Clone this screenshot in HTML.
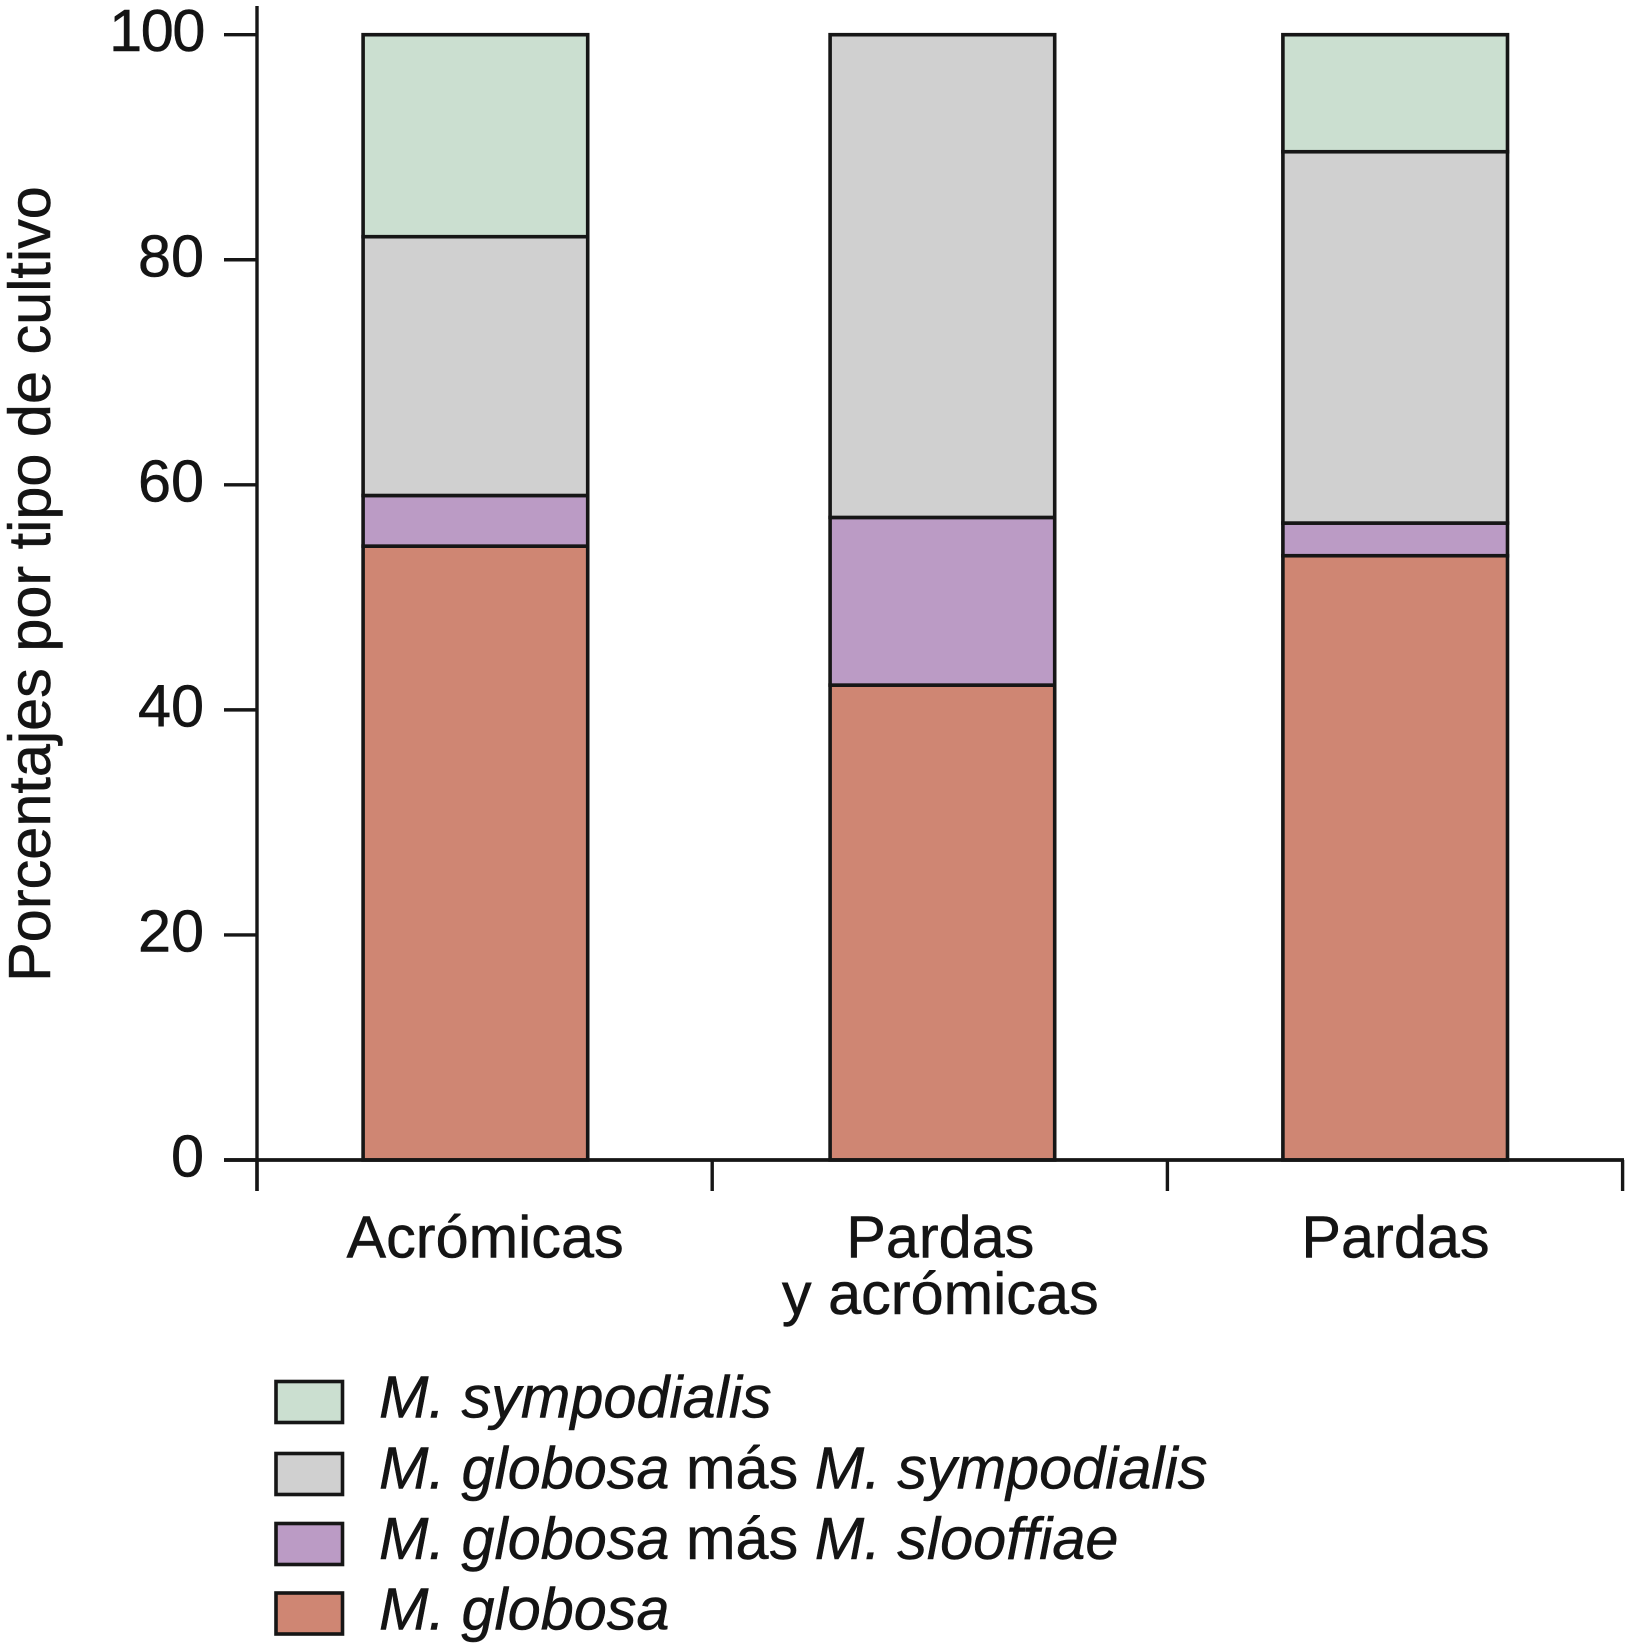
<!DOCTYPE html>
<html lang="es">
<head>
<meta charset="utf-8">
<title>Porcentajes por tipo de cultivo</title>
<style>
html,body{margin:0;padding:0;background:#fff;width:1625px;height:1649px;overflow:hidden}
svg{display:block}
text{font-family:"Liberation Sans",sans-serif;fill:#141414;stroke:#141414;stroke-width:.5px}
</style>
</head>
<body>
<svg id="chart" xmlns="http://www.w3.org/2000/svg" width="1625" height="1649" viewBox="0 0 1625 1649"></svg>
<script>
const categories = [["Acrómicas"], ["Pardas", "y acrómicas"], ["Pardas"]];
const yTicks = [0, 20, 40, 60, 80, 100];
const seriesGlobosa = [54.55, 42.2, 53.7];
const seriesSlooffiae = [4.5, 14.9, 2.9];
const seriesGlobosaSympodialis = [23, 42.9, 33];
const seriesSympodialis = [17.95, 0, 10.4];
const yTitle = "Porcentajes por tipo de cultivo";

const INK = "#161616";
const svg = document.getElementById("chart");
const NS = "http://www.w3.org/2000/svg";

const stacks = [
  { key: "globosa", values: seriesGlobosa, color: "#cf8673" },
  { key: "globosa-slooffiae", values: seriesSlooffiae, color: "#bb9bc5" },
  { key: "globosa-sympodialis", values: seriesGlobosaSympodialis, color: "#d0d0d0" },
  { key: "sympodialis", values: seriesSympodialis, color: "#cbdfd0" }
];

function yScale(v) { return 1160 - v * 11.253; }
function bandStart(i) { return 257 + i * 455.2; }
function bandCenter(i) { return bandStart(i) + 227.6; }
function barCenter(i) {
  const nudge = i === 0 ? -9.2 : i === 1 ? 2.6 : 0.2;
  return bandCenter(i) + nudge;
}
const BAR_WIDTH = 224.6;

function make(tag, attrs, parent) {
  const el = document.createElementNS(NS, tag);
  for (const k in attrs) el.setAttribute(k, attrs[k]);
  (parent || svg).appendChild(el);
  return el;
}

// stacked bars
categories.forEach(function (cat, i) {
  let acc = 0;
  stacks.forEach(function (s) {
    const v = s.values[i];
    if (v <= 0) return;
    const top = yScale(acc + v);
    const bottom = yScale(acc);
    const r = make("rect", {
      x: barCenter(i) - BAR_WIDTH / 2, y: top, width: BAR_WIDTH, height: bottom - top,
      fill: s.color, stroke: INK, "stroke-width": 3.6
    });
    
    
    acc += v;
  });
});

// y axis
const yAxis = make("line", { x1: 257, x2: 257, y1: 6, y2: 1191, stroke: INK, "stroke-width": 3.4 });



yTicks.forEach(function (t) {
  const y = yScale(t);
  const tick = make("line", { x1: 224, x2: 257, y1: y, y2: y, stroke: INK, "stroke-width": 3.4 });
  
  
  const label = make("text", { x: 204, y: y + 16.5, "text-anchor": "end", "font-size": 59.4 });
  if (String(t).length > 2) label.setAttribute("letter-spacing", "-1.4");
  label.textContent = t;
  
  
});

// x axis
const xAxis = make("line", { x1: 224, x2: 1624, y1: 1160, y2: 1160, stroke: INK, "stroke-width": 3.8 });



for (let i = 0; i <= categories.length; i++) {
  const x = bandStart(i);
  const tick = make("line", { x1: x, x2: x, y1: 1160, y2: 1191, stroke: INK, "stroke-width": 3.4 });
  
  
}

categories.forEach(function (lines, i) {
  lines.forEach(function (line, j) {
    const label = make("text", {
      x: bandCenter(i) + 0.5, y: 1257.5 + j * 56.5, "text-anchor": "middle", "font-size": 59.4
    });
    label.textContent = line;
    
    
  });
});

// y title
const title = make("text", {
  transform: "translate(50 584) rotate(-90)", x: 0, y: 0, "text-anchor": "middle", "font-size": 59.4
});
title.textContent = yTitle;


</script>
<svg xmlns="http://www.w3.org/2000/svg" width="1625" height="1649" viewBox="0 0 1625 1649" style="position:absolute;left:0;top:0">
  <g>
    <rect x="276" y="1381.5" width="66.5" height="41" fill="#cbdfd0" stroke="#161616" stroke-width="3.6"/>
    <text x="379" y="1417.5" font-size="59.4" font-style="italic">M. sympodialis</text>
  </g>
  <g>
    <rect x="276" y="1453.5" width="66.5" height="41" fill="#d0d0d0" stroke="#161616" stroke-width="3.6"/>
    <text x="379" y="1488.5" font-size="59.4"><tspan font-style="italic">M. globosa</tspan> más <tspan font-style="italic">M. sympodialis</tspan></text>
  </g>
  <g>
    <rect x="276" y="1523.5" width="66.5" height="41" fill="#bb9bc5" stroke="#161616" stroke-width="3.6"/>
    <text x="379" y="1559.2" font-size="59.4"><tspan font-style="italic">M. globosa</tspan> más <tspan font-style="italic">M. slooffiae</tspan></text>
  </g>
  <g>
    <rect x="276" y="1593" width="66.5" height="41" fill="#cf8673" stroke="#161616" stroke-width="3.6"/>
    <text x="379" y="1629.6" font-size="59.4" font-style="italic">M. globosa</text>
  </g>
</svg>
</body>
</html>
